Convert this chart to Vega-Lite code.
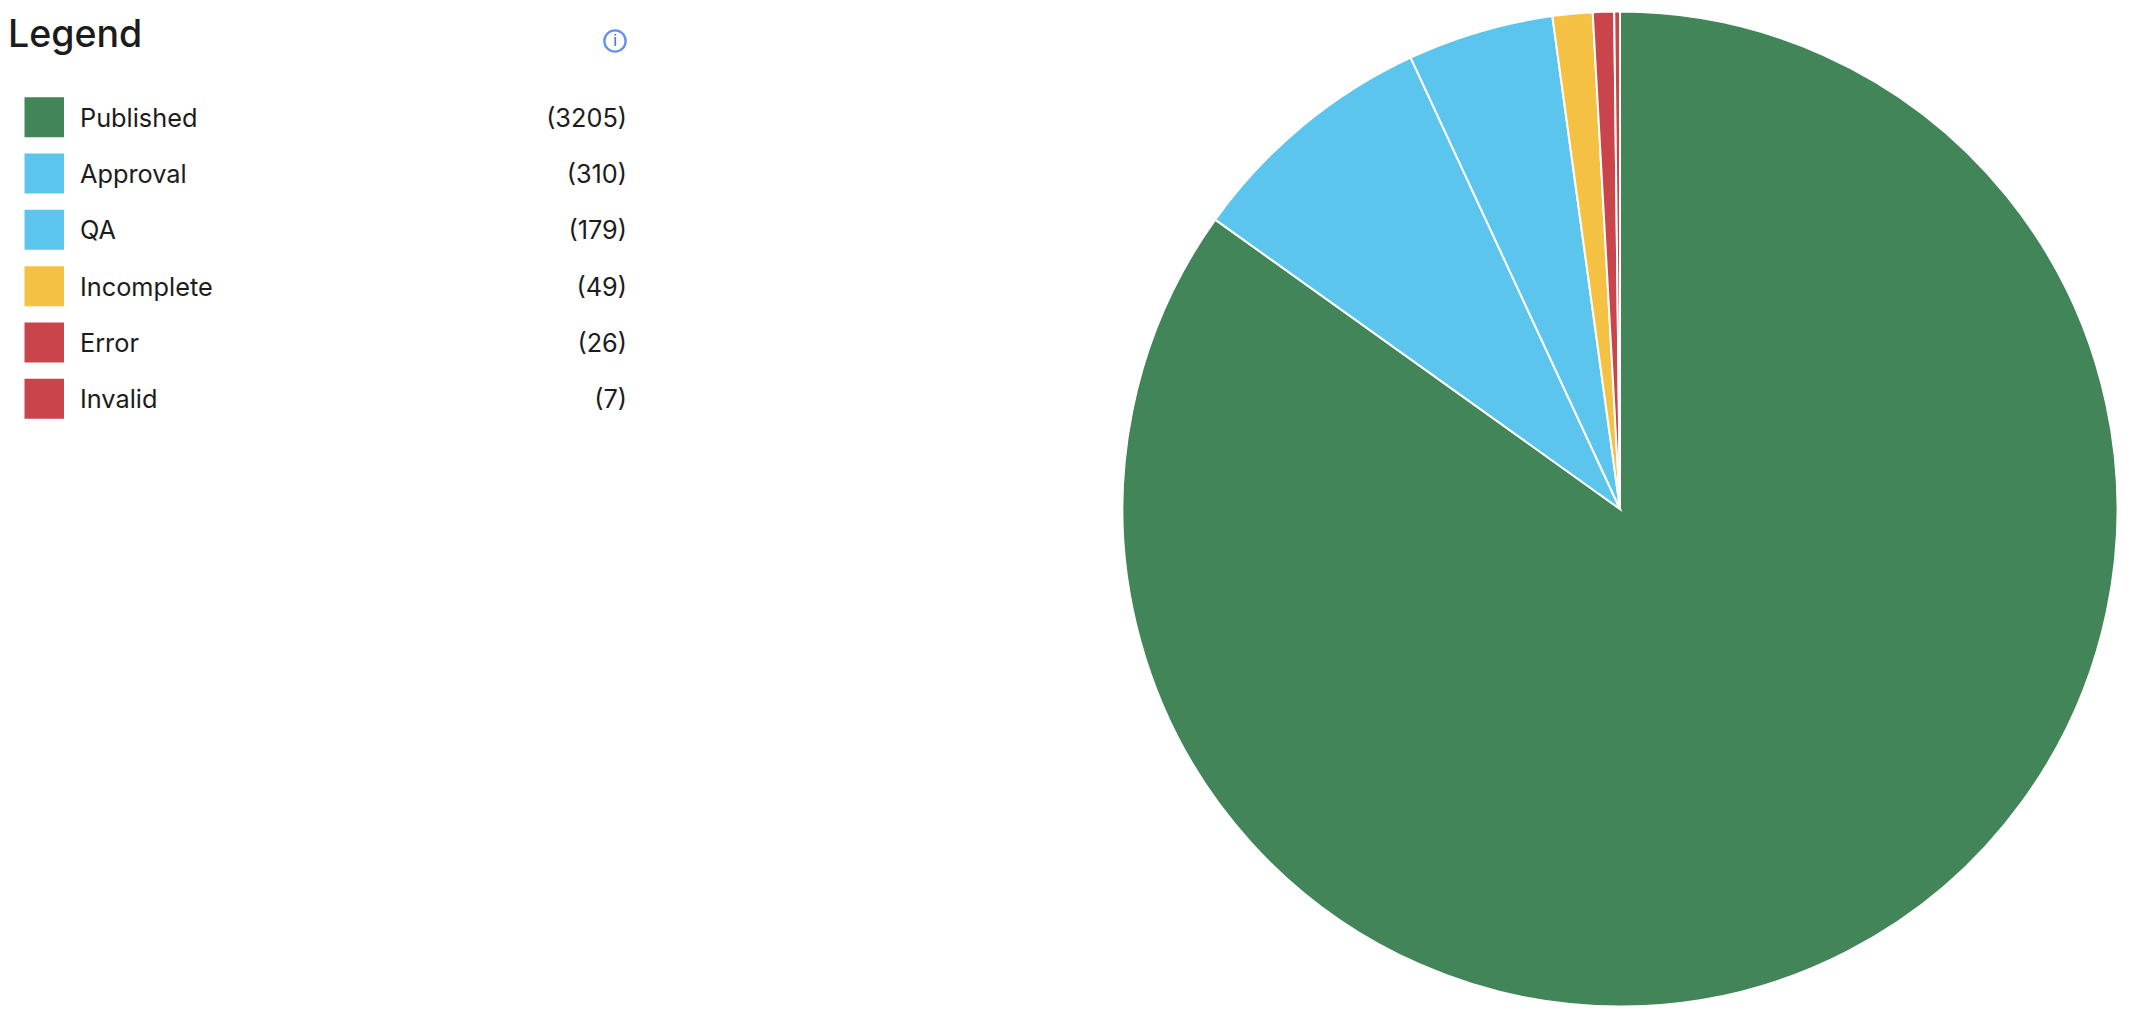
{"$schema":"https://vega.github.io/schema/vega-lite/v6.json","padding":0,"background":"white","spacing":0,"config":{"view":{"stroke":null},"font":"Inter","concat":{"spacing":0}},
"datasets":{"rows":[{"status":"Published","count":3205,"label":"(3205)","rank":1},{"status":"Approval","count":310,"label":"(310)","rank":2},{"status":"QA","count":179,"label":"(179)","rank":3},{"status":"Incomplete","count":49,"label":"(49)","rank":4},{"status":"Error","count":26,"label":"(26)","rank":5},{"status":"Invalid","count":7,"label":"(7)","rank":6}]},
"hconcat":[
{"width":1118,"height":1018,"data":{"name":"rows"},
"encoding":{"y":{"field":"status","type":"nominal","axis":null,"scale":{"domain":["Published","Approval","QA","Incomplete","Error","Invalid"],"range":[89,427],"paddingInner":0.29,"paddingOuter":0.145}}},
"layer":[
{"mark":{"type":"rect"},"encoding":{"x":{"value":24.5},"x2":{"value":64},"color":{"field":"status","type":"nominal","legend":null,"scale":{"domain":["Published","Approval","QA","Incomplete","Error","Invalid"],"range":["#418558","#5BC5EE","#5BC5EE","#F4C143","#CA444C","#CA444C"]}}}},
{"mark":{"type":"text","align":"left","baseline":"middle","fontSize":25.3,"dy":1.5,"font":"Inter","color":"#1c1c1c"},"encoding":{"x":{"value":80},"text":{"field":"status"}}},
{"mark":{"type":"text","align":"right","baseline":"middle","fontSize":25.3,"dy":1.5,"font":"Inter","color":"#1c1c1c"},"encoding":{"x":{"value":627},"text":{"field":"label"}}},
{"data":{"values":[{"t":"Legend"}]},"mark":{"type":"text","align":"left","baseline":"alphabetic","fontSize":37.5,"fontWeight":500,"font":"Inter","color":"#1c1c1c"},"encoding":{"x":{"value":8},"y":{"value":47},"text":{"field":"t"}}},
{"data":{"values":[{"t":"i"}]},"mark":{"type":"point","shape":"circle","size":452,"filled":false,"stroke":"#2563EB","strokeWidth":2.4},"encoding":{"x":{"value":615},"y":{"value":41}}},
{"data":{"values":[{"t":"i"}]},"mark":{"type":"text","align":"center","baseline":"middle","fontSize":15,"font":"Inter","color":"#2563EB"},"encoding":{"x":{"value":615},"y":{"value":41},"text":{"field":"t"}}}
]},
{"width":996,"height":1018,"data":{"name":"rows"},"mark":{"type":"arc","radius":497.5,"stroke":"white","strokeWidth":2},
"encoding":{"theta":{"field":"count","type":"quantitative","stack":true},"order":{"field":"rank","type":"ordinal"},"color":{"field":"status","type":"nominal","legend":null,"scale":{"domain":["Published","Approval","QA","Incomplete","Error","Invalid"],"range":["#418558","#5BC5EE","#5BC5EE","#F4C143","#CA444C","#CA444C"]}}}}
]}
